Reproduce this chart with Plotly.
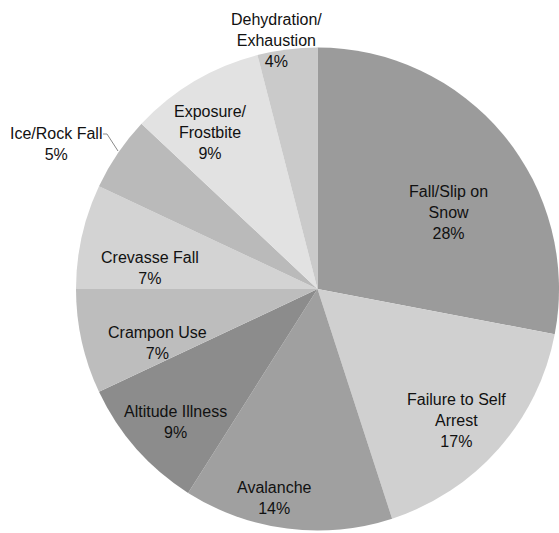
import plotly.graph_objects as go

W, H = 559, 533

categories = ["Fall/Slip on Snow", "Failure to Self Arrest", "Avalanche", "Altitude Illness",
              "Crampon Use", "Crevasse Fall", "Ice/Rock Fall", "Exposure/Frostbite",
              "Dehydration/Exhaustion"]
display_labels = ["Fall/Slip on<br>Snow", "Failure to Self<br>Arrest", "Avalanche", "Altitude Illness",
                  "Crampon Use", "Crevasse Fall", "Ice/Rock Fall", "Exposure/<br>Frostbite",
                  "Dehydration/<br>Exhaustion"]
values = [28, 17, 14, 9, 7, 7, 5, 9, 4]

# styling / layout (not data)
colors = ["#9b9b9b", "#d0d0d0", "#a0a0a0", "#8c8c8c", "#bdbdbd", "#d3d3d3", "#bababa", "#e2e2e2", "#cacaca"]
label_px = [(448, 213), (456, 420), (274, 498), (175, 422), (157, 343), (150, 268),
            (56, 144), (210, 133), (276, 40)]

total = sum(values)

fig = go.Figure(go.Pie(
    labels=categories,
    values=values,
    textinfo="none",
    sort=False,
    direction="clockwise",
    rotation=0,
    marker=dict(colors=colors, line=dict(width=0)),
    domain=dict(x=[76 / W, 1.0], y=[0.0, 488 / H]),
    showlegend=False,
    hoverinfo="label+percent",
))

annotations = []
for lab, v, (px, py) in zip(display_labels, values, label_px):
    pct = round(100 * v / total)
    annotations.append(dict(
        x=px / W, y=1 - py / H, xref="paper", yref="paper",
        text=f"{lab}<br>{pct}%", showarrow=False,
        xanchor="center", yanchor="middle", align="center",
        font=dict(family="Liberation Sans, Arial, sans-serif", size=16, color="#111111"),
    ))

fig.update_layout(
    width=W, height=H,
    margin=dict(l=0, r=0, t=0, b=0),
    paper_bgcolor="white",
    plot_bgcolor="white",
    annotations=annotations,
    shapes=[dict(
        type="path", xref="paper", yref="paper",
        path=f"M {103 / W} {1 - 134 / H} L {107 / W} {1 - 134 / H} L {118 / W} {1 - 151 / H}",
        line=dict(color="#8a8a8a", width=1),
    )],
)

fig.write_html("out.html")
